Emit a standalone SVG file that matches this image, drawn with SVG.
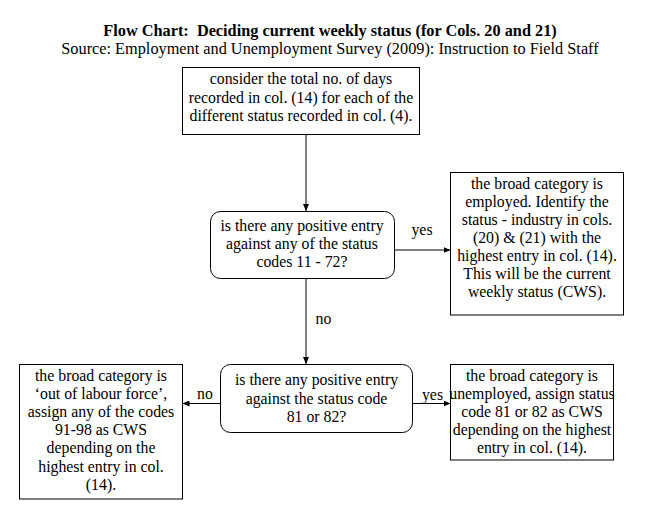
<svg xmlns="http://www.w3.org/2000/svg" width="660" height="517" viewBox="0 0 660 517">
<style>
text{font-family:"Liberation Serif","Times New Roman",serif;font-size:15.8px;fill:#000;text-anchor:middle}
.hd{font-size:16.3px}
.title{font-weight:bold;white-space:pre}
.box{fill:#fff;stroke:#000;stroke-width:1}
.conn{fill:none;stroke:#000;stroke-width:1}
</style>
<defs>
<marker id="arr" markerUnits="userSpaceOnUse" markerWidth="7" markerHeight="6" refX="7" refY="3" orient="auto">
<path d="M0,0 L7,3 L0,6 z" fill="#000"/>
</marker>
</defs>
<rect width="660" height="517" fill="#fff"/>
<g id="title">
<text class="hd title" x="330" y="35.5" xml:space="preserve">Flow Chart:  Deciding current weekly status (for Cols. 20 and 21)</text>
<text class="hd" x="330" y="53.5">Source: Employment and Unemployment Survey (2009): Instruction to Field Staff</text>
</g>
<g id="connectors">
<line class="conn" x1="306" y1="134.5" x2="306" y2="211" marker-end="url(#arr)"/>
<line class="conn" x1="394" y1="250" x2="450.5" y2="250" marker-end="url(#arr)"/>
<line class="conn" x1="306" y1="278.5" x2="306" y2="364" marker-end="url(#arr)"/>
<line class="conn" x1="412.5" y1="403.5" x2="450.5" y2="403.5" marker-end="url(#arr)"/>
<line class="conn" x1="220.5" y1="403.5" x2="182.5" y2="403.5" marker-end="url(#arr)"/>
<text x="422" y="235">yes</text>
<text x="323.5" y="323.5">no</text>
<text x="432.5" y="400">yes</text>
<text x="205" y="399">no</text>
</g>
<g id="start">
<rect class="box" x="182.5" y="67.5" width="237" height="67"/>
<text x="301" y="84">consider the total no. of days</text>
<text x="301" y="102.5">recorded in col. (14) for each of the</text>
<text x="301" y="120.5">different status recorded in col. (4).</text>
</g>
<g id="decision1">
<rect class="box" x="210.5" y="211.5" width="184" height="67" rx="10" ry="10"/>
<text x="302" y="230.5">is there any positive entry</text>
<text x="302" y="248.5">against any of the status</text>
<text x="302" y="266.5">codes 11 - 72?</text>
</g>
<g id="employed">
<rect class="box" x="450.5" y="172.5" width="173" height="142.5"/>
<text x="537" y="188.5">the broad category is</text>
<text x="537" y="206.5">employed. Identify the</text>
<text x="537" y="224.5">status - industry in cols.</text>
<text x="537" y="242.5">(20) &amp; (21) with the</text>
<text x="537" y="260.5">highest entry in col. (14).</text>
<text x="537" y="278.5">This will be the current</text>
<text x="537" y="296.5">weekly status (CWS).</text>
</g>
<g id="decision2">
<rect class="box" x="220.5" y="364.5" width="192" height="68" rx="10" ry="10"/>
<text x="316.5" y="385">is there any positive entry</text>
<text x="316.5" y="403.5">against the status code</text>
<text x="316.5" y="421.5">81 or 82?</text>
</g>
<g id="unemployed">
<rect class="box" x="450.5" y="364.5" width="163" height="95.5"/>
<text x="532" y="381">the broad category is</text>
<text x="532" y="399">unemployed, assign status</text>
<text x="532" y="417">code 81 or 82 as CWS</text>
<text x="532" y="435">depending on the highest</text>
<text x="532" y="453">entry in col. (14).</text>
</g>
<g id="outoflabour">
<rect class="box" x="19.5" y="364.5" width="163" height="134.5"/>
<text x="101" y="380.5">the broad category is</text>
<text x="101" y="398.5">‘out of labour force’,</text>
<text x="101" y="416.5">assign any of the codes</text>
<text x="101" y="435">91-98 as CWS</text>
<text x="101" y="453">depending on the</text>
<text x="101" y="471.5">highest entry in col.</text>
<text x="101" y="490">(14).</text>
</g>
</svg>
